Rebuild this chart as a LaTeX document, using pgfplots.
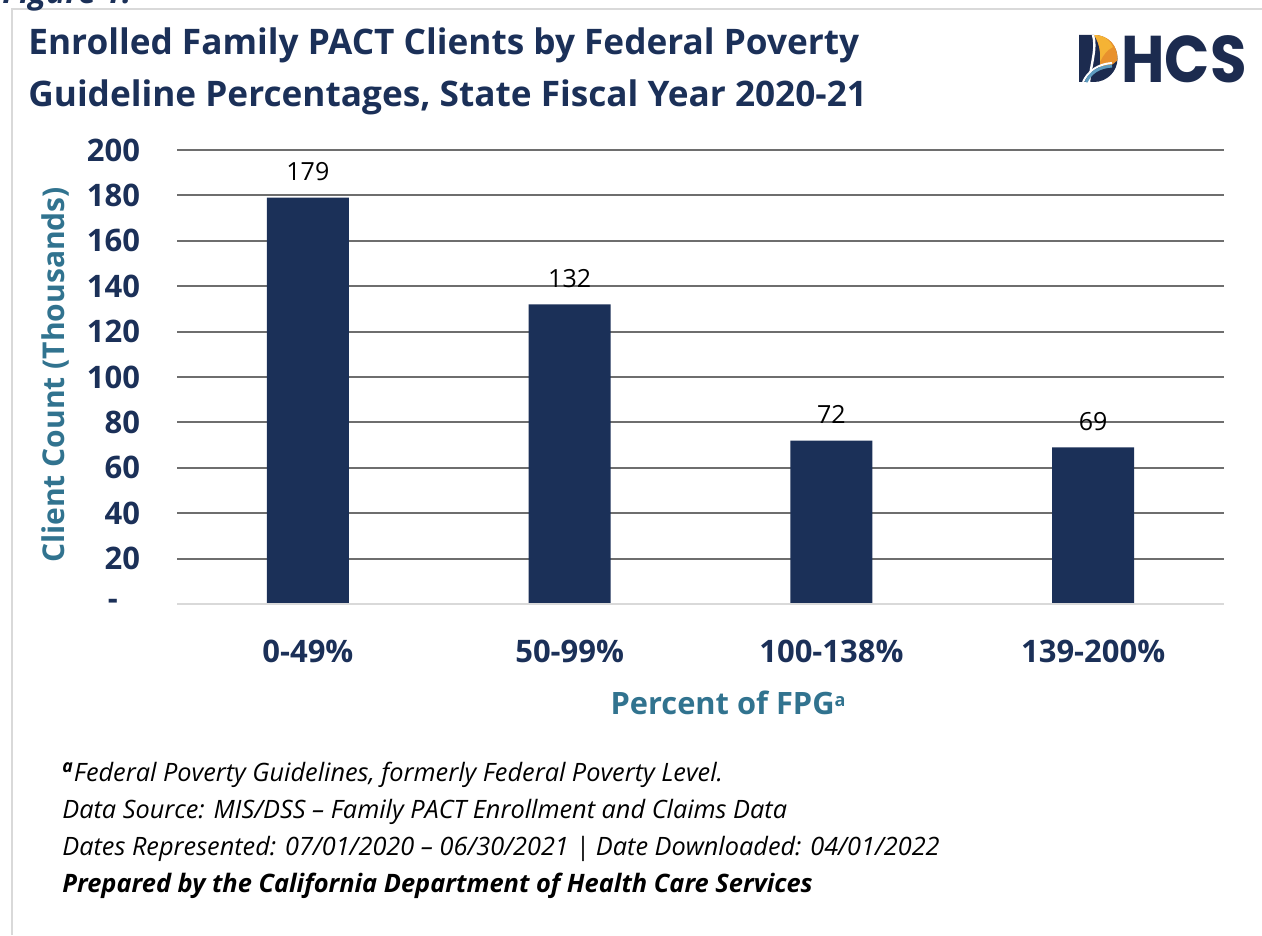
\documentclass[border=0pt]{standalone}
\usepackage{pgfplots}
\pgfplotsset{compat=1.18}
\usepackage{fontspec}
\setmainfont{Open Sans}
\newfontfamily\logofont{Poppins}
\definecolor{navy}{HTML}{1B3058}
\definecolor{axteal}{HTML}{31738F}
\definecolor{gridc}{HTML}{6E6E6E}
\definecolor{basec}{HTML}{D9D9D9}
\definecolor{framec}{HTML}{D9D9D9}
\definecolor{logonavy}{HTML}{1C2B4F}
\definecolor{logoorange}{HTML}{E8912D}
\definecolor{logogold}{HTML}{F5B335}
\definecolor{logoblue}{HTML}{5E9CC0}
\begin{document}
\begin{tikzpicture}[x=0.5bp,y=0.5bp]
\path[use as bounding box] (0,0) rectangle (1262,935);
\draw[framec, line width=1bp] (11.5,0) -- (11.5,925.5) -- (1262,925.5);
\node[anchor=base west, inner sep=0, font=\fontsize{16bp}{19bp}\selectfont\bfseries\itshape, text=navy] at (2,931) {Figure 1.};
\node[anchor=base west, inner sep=0, font=\fontsize{17.6bp}{21bp}\selectfont\bfseries, text=navy] at (28,880) {Enrolled Family PACT Clients by Federal Poverty};
\node[anchor=base west, inner sep=0, font=\fontsize{17.6bp}{21bp}\selectfont\bfseries, text=navy] at (28,828) {Guideline Percentages, State Fiscal Year 2020-21};
% logo
\fill[logonavy] (1079,853) -- (1079,900) -- (1094,900) arc[start angle=90, end angle=-90, radius=23.5] -- cycle;
\fill[logoorange] (1094,900) .. controls (1110,900) and (1118,888) .. (1117.5,875) .. controls (1112,869) and (1105,866) .. (1099,866) .. controls (1102,877) and (1100,891) .. (1094,900) -- cycle;
\fill[logogold] (1094,900) .. controls (1104,900) and (1110,895) .. (1113,888) .. controls (1107,885) and (1103,880) .. (1100,873) .. controls (1101,885) and (1099,893) .. (1094,900) -- cycle;
\draw[white, line width=1.2bp] (1089,853) .. controls (1091,870) and (1097,888) .. (1093,900);
\draw[white, line width=1bp] (1083,853) .. controls (1088,864) and (1098,871) .. (1112,872);
\draw[logoblue, line width=1.5bp] (1086,853) .. controls (1091,863) and (1099,868) .. (1112,869);
\node[anchor=base west, inner sep=0, xscale=0.9, font=\logofont\fontsize{33bp}{36bp}\selectfont\bfseries, text=logonavy] at (1121,852) {HCS};
% axis labels
\node[rotate=90, inner sep=0, font=\fontsize{15bp}{18bp}\selectfont\bfseries, text=axteal] at (55,560) {Client Count (Thousands)};
\node[inner sep=0, font=\fontsize{15.4bp}{18bp}\selectfont\bfseries, text=axteal] at (728,232) {Percent of FPG\raisebox{0.25em}{\fontsize{9bp}{10bp}\selectfont a}};
% footnotes
\node[anchor=base west, inner sep=0, font=\fontsize{12.65bp}{15bp}\selectfont\itshape] at (62,154) {\textsuperscript{\textbf{a}}Federal Poverty Guidelines, formerly Federal Poverty Level.};
\node[anchor=base west, inner sep=0, font=\fontsize{12.65bp}{15bp}\selectfont\itshape] at (62,117) {Data Source: MIS/DSS \textendash{} Family PACT Enrollment and Claims Data};
\node[anchor=base west, inner sep=0, font=\fontsize{12.65bp}{15bp}\selectfont\itshape] at (62,80) {Dates Represented: 07/01/2020 \textendash{} 06/30/2021 | Date Downloaded: 04/01/2022};
\node[anchor=base west, inner sep=0, font=\fontsize{12.7bp}{15bp}\selectfont\itshape\bfseries] at (62,43) {Prepared by the California Department of Health Care Services};
\begin{axis}[
  at={(88.5bp,165.5bp)}, anchor=south west,
  scale only axis, width=523.5bp, height=227bp,
  xmin=-0.5, xmax=3.5, ymin=0, ymax=200,
  axis line style={draw=none},
  ybar, bar width=41bp,
  xtick={0,1,2,3},
  xticklabels={0-49\%,50-99\%,100-138\%,139-200\%},
  ytick={20,40,...,200},
  extra y ticks={0}, extra y tick labels={-\kern11bp},
  extra y tick style={grid=none},
  ymajorgrids, grid style={gridc, line width=1bp},
  major tick length=0pt, tick style={draw=none},
  yticklabel style={font=\fontsize{15.5bp}{18bp}\selectfont\bfseries, text=navy, xshift=-15bp},
  xticklabel style={font=\fontsize{15.5bp}{18bp}\selectfont\bfseries, text=navy, anchor=north, yshift=-14.5bp},
  /pgf/number format/assume math mode=true,
  nodes near coords,
  nodes near coords style={font=\fontsize{12.5bp}{15bp}\selectfont, text=black, anchor=base, yshift=8.5bp},
  clip=false,
]
\addplot[fill=navy, draw=none] coordinates {(0,179) (1,132) (2,72) (3,69)};
\draw[basec, line width=1bp] (axis cs:-0.5,0) -- (axis cs:3.5,0);
\end{axis}
\end{tikzpicture}
\end{document}
